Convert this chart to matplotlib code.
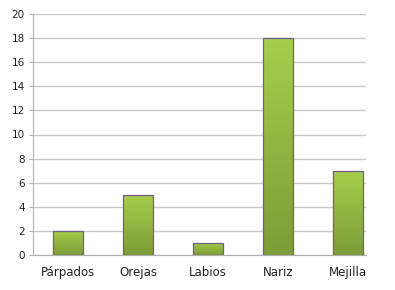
import matplotlib.pyplot as plt
import numpy as np
from matplotlib.colors import LinearSegmentedColormap

categories = ['Párpados', 'Orejas', 'Labios', 'Nariz', 'Mejilla']
values = [2, 5, 1, 18, 7]
y_ticks = [0, 2, 4, 6, 8, 10, 12, 14, 16, 18, 20]

fig = plt.figure(figsize=(3.95, 2.9), dpi=100)
ax = fig.add_axes([33 / 395, 1 - 255 / 290, 333 / 395, 241 / 290])

x = np.arange(len(categories))
bars = ax.bar(x, values, width=0.42, color='#94bf3f', edgecolor='#6e5f8c',
              linewidth=0.9, zorder=3)

# vertical green gradient inside each bar (darker at the bottom)
cmap = LinearSegmentedColormap.from_list('g', ['#7c9c37', '#a6cf4b'])
grad = np.linspace(0, 1, 256).reshape(-1, 1)
for b in bars:
    x0, y0 = b.get_x(), b.get_y()
    w, h = b.get_width(), b.get_height()
    im = ax.imshow(grad, cmap=cmap, aspect='auto', origin='lower',
                   extent=[x0, x0 + w, y0, y0 + h], zorder=3)
    im.set_clip_path(b)
for b in bars:
    b.set_facecolor('none')
    b.set_zorder(4)

ax.set_xlim(-0.5, 4.257)
ax.set_ylim(0, 20)
ax.set_yticks(y_ticks)
ax.set_xticks(x)
ax.set_xticklabels(categories, fontsize=8.5, color='#222222')
ax.tick_params(axis='y', labelsize=7.5, length=3, color='#b0b0b0', pad=3,
               labelcolor='#222222')
ax.tick_params(axis='x', length=0, pad=8)
ax.grid(axis='y', color='#c8c8c8', linewidth=1, zorder=0)
for s in ['top', 'right']:
    ax.spines[s].set_visible(False)
ax.spines['left'].set_color('#b0b0b0')
ax.spines['bottom'].set_color('#b0b0b0')

plt.savefig('out.png', dpi=100)
